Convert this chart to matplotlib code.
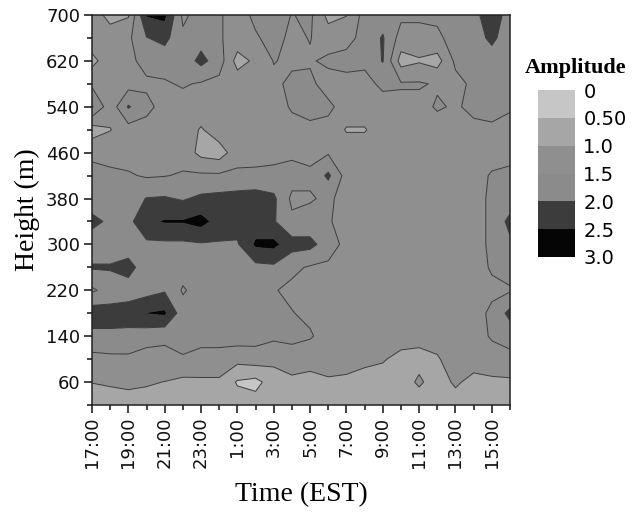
import numpy as np
import matplotlib
matplotlib.use('Agg')
import matplotlib.pyplot as plt

# ---- data -------------------------------------------------------------
time_labels = ['17:00', '18:00', '19:00', '20:00', '21:00', '22:00', '23:00', '0:00',
               '1:00', '2:00', '3:00', '4:00', '5:00', '6:00', '7:00', '8:00',
               '9:00', '10:00', '11:00', '12:00', '13:00', '14:00', '15:00', '16:00']
hours = list(range(24))
heights = [20, 60, 100, 140, 180, 220, 260, 300, 340, 380, 420, 460, 500, 540, 580, 620, 660, 700]

# amplitude per height row, one value per hour (17:00 ... 16:00)
amp_020 = [0.80, 0.80, 0.78, 0.80, 0.82, 0.80, 0.80, 0.78, 0.75, 0.72, 0.78, 0.80, 0.80, 0.80, 0.80, 0.80, 0.80, 0.82, 0.82, 0.80, 0.85, 0.80, 0.80, 0.80]
amp_060 = [1.01, 1.05, 1.11, 1.05, 0.99, 0.88, 0.90, 0.90, 0.45, 0.35, 0.75, 0.90, 0.85, 0.90, 0.90, 0.90, 0.85, 0.85, 1.05, 0.85, 1.05, 0.90, 0.90, 0.92]
amp_100 = [1.35, 1.38, 1.40, 1.30, 1.35, 1.45, 1.40, 1.40, 1.16, 1.25, 1.13, 1.23, 1.17, 1.34, 1.20, 1.06, 1.03, 0.90, 0.90, 0.95, 1.25, 1.15, 1.30, 1.35]
amp_140 = [1.85, 1.90, 1.85, 1.70, 1.60, 1.70, 1.60, 1.60, 1.75, 1.70, 1.60, 1.65, 1.55, 1.30, 1.30, 1.30, 1.30, 1.15, 1.10, 1.20, 1.30, 1.30, 1.55, 1.70]
amp_180 = [2.30, 2.20, 2.25, 2.52, 2.60, 1.70, 1.70, 1.70, 1.70, 1.70, 1.65, 1.52, 1.40, 1.30, 1.30, 1.30, 1.30, 1.30, 1.30, 1.30, 1.30, 1.30, 1.60, 2.15]
amp_220 = [1.42, 1.70, 1.75, 1.80, 1.95, 1.45, 1.70, 1.70, 1.70, 1.70, 1.53, 1.40, 1.30, 1.30, 1.30, 1.30, 1.30, 1.30, 1.30, 1.30, 1.30, 1.30, 1.40, 1.45]
amp_260 = [2.05, 2.05, 2.20, 1.70, 1.70, 1.70, 1.70, 1.70, 1.70, 1.85, 1.90, 1.60, 1.45, 1.40, 1.30, 1.30, 1.30, 1.30, 1.30, 1.30, 1.30, 1.30, 1.55, 1.70]
amp_300 = [1.70, 1.70, 1.70, 1.90, 1.90, 1.90, 1.95, 1.95, 1.95, 2.60, 2.65, 2.20, 2.15, 1.75, 1.35, 1.30, 1.30, 1.30, 1.30, 1.30, 1.30, 1.30, 1.60, 1.90]
amp_340 = [2.15, 1.90, 1.85, 2.40, 2.55, 2.55, 2.70, 2.30, 2.20, 2.20, 2.05, 1.60, 1.70, 1.55, 1.30, 1.30, 1.30, 1.30, 1.30, 1.30, 1.30, 1.30, 1.60, 2.15]
amp_380 = [1.70, 1.70, 1.75, 2.02, 2.05, 1.95, 2.10, 2.15, 2.20, 2.25, 2.10, 1.40, 1.45, 1.60, 1.30, 1.30, 1.30, 1.30, 1.30, 1.30, 1.30, 1.30, 1.60, 1.70]
amp_420 = [1.65, 1.60, 1.55, 1.45, 1.48, 1.55, 1.58, 1.58, 1.60, 1.60, 1.65, 1.70, 1.60, 2.10, 1.30, 1.30, 1.30, 1.30, 1.30, 1.30, 1.30, 1.30, 1.55, 1.65]
amp_460 = [1.40, 1.33, 1.30, 1.30, 1.30, 1.30, 0.85, 0.75, 1.30, 1.33, 1.33, 1.40, 1.35, 1.45, 1.30, 1.30, 1.30, 1.30, 1.30, 1.30, 1.30, 1.30, 1.30, 1.30]
amp_500 = [0.75, 0.98, 1.30, 1.30, 1.30, 1.30, 0.95, 1.30, 1.30, 1.30, 1.30, 1.35, 1.40, 1.35, 0.96, 0.96, 1.30, 1.30, 1.30, 1.30, 1.30, 1.40, 1.45, 1.35]
amp_540 = [2.05, 1.20, 2.05, 1.65, 1.30, 1.30, 1.30, 1.30, 1.30, 1.30, 1.30, 1.55, 1.65, 1.60, 1.30, 1.30, 1.30, 1.35, 1.35, 1.55, 1.45, 1.60, 1.60, 1.55]
amp_580 = [1.40, 1.30, 1.30, 1.40, 1.45, 1.55, 1.45, 1.35, 1.30, 1.30, 1.40, 1.60, 1.60, 1.30, 1.35, 1.35, 1.60, 1.55, 1.55, 1.45, 1.35, 1.60, 1.70, 1.65]
amp_620 = [0.85, 1.30, 1.35, 1.70, 1.70, 1.70, 2.15, 1.75, 0.80, 1.10, 1.52, 1.42, 1.45, 1.60, 1.65, 1.60, 2.03, 0.80, 0.95, 0.80, 1.60, 1.60, 1.80, 1.70]
amp_660 = [1.30, 1.30, 1.40, 1.98, 2.15, 1.60, 1.80, 1.55, 1.30, 1.45, 1.65, 1.40, 1.52, 1.25, 1.35, 1.65, 2.05, 1.30, 1.30, 1.40, 1.70, 1.80, 2.10, 1.75]
amp_700 = [1.30, 0.80, 0.95, 2.55, 2.65, 1.40, 1.70, 1.55, 1.30, 1.60, 1.75, 1.48, 1.60, 0.85, 0.98, 1.70, 1.75, 1.60, 1.60, 1.60, 1.75, 1.90, 2.20, 1.85]

levels = [0, 0.5, 1.0, 1.5, 2.0, 2.5, 3.0]
level_labels = ['0', '0.50', '1.0', '1.5', '2.0', '2.5', '3.0']
fill_colors = ['#c6c6c6', '#a6a6a6', '#8f8f8f', '#8b8b8b', '#3c3c3c', '#050505']

y_major = [60, 140, 220, 300, 380, 460, 540, 620, 700]
y_minor = [20, 100, 180, 260, 340, 420, 500, 580, 660]

# ---- plot -------------------------------------------------------------
Z = np.array([amp_020, amp_060, amp_100, amp_140, amp_180, amp_220, amp_260,
              amp_300, amp_340, amp_380, amp_420, amp_460, amp_500, amp_540,
              amp_580, amp_620, amp_660, amp_700])

fig = plt.figure(figsize=(6.32, 5.14), dpi=100)
ax = fig.add_axes([92 / 632, 1 - 405 / 514, (510 - 92) / 632, (405 - 15) / 514])

cs = ax.contourf(hours, heights, Z, levels=levels, colors=fill_colors, antialiased=True)
ax.contour(hours, heights, Z, levels=levels[1:-1], colors='#3a3a3a', linewidths=0.7)

ax.set_xlim(hours[0], hours[-1])
ax.set_ylim(heights[0], heights[-1])
ax.set_xticks(hours[::2])
ax.set_xticklabels(time_labels[::2], rotation=90)
ax.set_xticks(hours[1::2], minor=True)
ax.set_yticks(y_major)
ax.set_yticks(y_minor, minor=True)
ax.tick_params(which='major', direction='out', length=5.5, width=1.1,
               labelsize=13, pad=3, colors='#111111')
ax.tick_params(which='minor', direction='out', length=3.5, width=1.1, colors='#111111')
for s in ax.spines.values():
    s.set_linewidth(1.1)
    s.set_color('#222222')

ax.set_xlabel('Time (EST)', fontfamily='Liberation Serif', fontsize=20, labelpad=10)
ax.set_ylabel('Height (m)', fontfamily='Liberation Serif', fontsize=20, labelpad=4)

cax = fig.add_axes([538 / 632, 1 - 257 / 514, 37 / 632, (257 - 90) / 514])
cb = fig.colorbar(cs, cax=cax)
cb.outline.set_visible(False)
cb.set_ticks(levels)
cb.set_ticklabels(level_labels)
cax.invert_yaxis()
cax.tick_params(length=0, labelsize=14, pad=6)

fig.text(576 / 632, 1 - 68 / 514, 'Amplitude', fontfamily='Liberation Serif',
         fontweight='bold', fontsize=16, ha='center', va='center')

fig.savefig('out.png', dpi=100)
